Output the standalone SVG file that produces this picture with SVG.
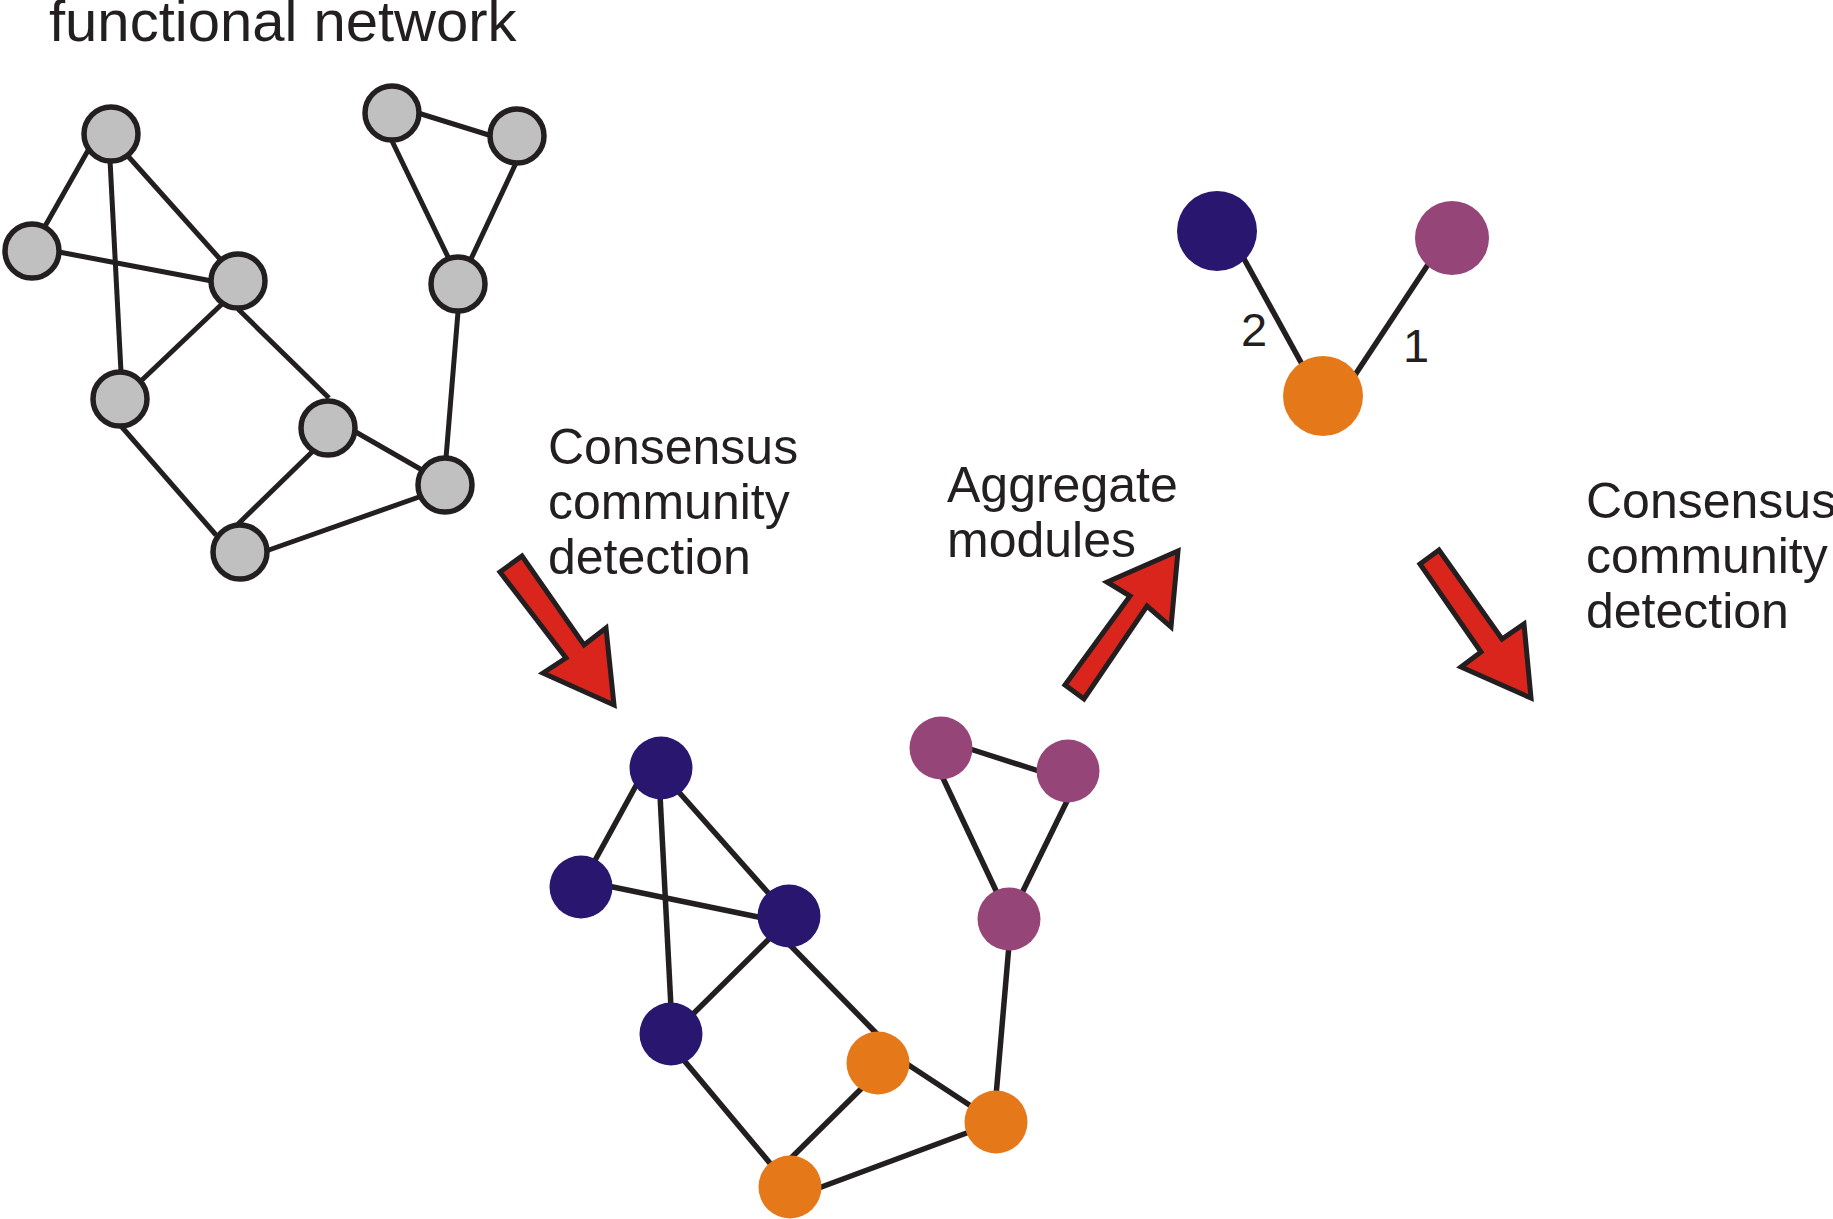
<svg xmlns="http://www.w3.org/2000/svg" width="1833" height="1219" viewBox="0 0 1833 1219">
<style>
  .txt { font-family: "Liberation Sans", Arial, sans-serif; fill: #231F20; }
  .lbl { font-size: 50px; }
  .edge { stroke: #231F20; stroke-width: 5; stroke-linecap: butt; fill: none; }
  .cedge { stroke: #231F20; stroke-width: 5.5; stroke-linecap: butt; fill: none; }
  .gray { fill: #C0C0C0; stroke: #231F20; stroke-width: 5.5; }
  .blue { fill: #29166F; }
  .purple { fill: #964578; }
  .orange { fill: #E57818; }
  .arrow { fill: #DA251D; stroke: #231F20; stroke-width: 5; stroke-linejoin: miter; }
</style>
<rect width="1833" height="1219" fill="#FFFFFF"/>

<text class="txt" x="49" y="41" font-size="58">functional network</text>

<g id="connectors">
  <!-- gray network -->
  <line class="edge" x1="90" y1="147" x2="44" y2="228"/>
  <line class="edge" x1="110" y1="160" x2="121" y2="372"/>
  <line class="edge" x1="127" y1="155" x2="220" y2="259"/>
  <line class="edge" x1="59" y1="252" x2="212" y2="281"/>
  <line class="edge" x1="222" y1="304" x2="142" y2="380"/>
  <line class="edge" x1="238" y1="309" x2="329" y2="398"/>
  <line class="edge" x1="121" y1="426" x2="216" y2="535"/>
  <line class="edge" x1="237" y1="525" x2="312" y2="452"/>
  <line class="edge" x1="354" y1="431" x2="422" y2="470"/>
  <line class="edge" x1="266" y1="551" x2="419" y2="497"/>
  <line class="edge" x1="418" y1="113" x2="492" y2="136"/>
  <line class="edge" x1="392" y1="141" x2="449" y2="259"/>
  <line class="edge" x1="516" y1="163" x2="471" y2="259"/>
  <line class="edge" x1="458" y1="312" x2="446" y2="458"/>
  <!-- colored network -->
  <line class="cedge" x1="638" y1="782" x2="593" y2="864"/>
  <line class="cedge" x1="660" y1="795" x2="671" y2="1008"/>
  <line class="cedge" x1="677" y1="790" x2="771" y2="896"/>
  <line class="cedge" x1="608" y1="886" x2="763" y2="918"/>
  <line class="cedge" x1="772" y1="936" x2="690" y2="1017"/>
  <line class="cedge" x1="787" y1="942" x2="879" y2="1036"/>
  <line class="cedge" x1="682" y1="1058" x2="774" y2="1168"/>
  <line class="cedge" x1="788" y1="1161" x2="865" y2="1085"/>
  <line class="cedge" x1="904" y1="1062" x2="974" y2="1108"/>
  <line class="cedge" x1="816" y1="1189" x2="972" y2="1131"/>
  <line class="cedge" x1="967" y1="748" x2="1042" y2="772"/>
  <line class="cedge" x1="941" y1="774" x2="999" y2="897"/>
  <line class="cedge" x1="1069" y1="797" x2="1020" y2="897"/>
  <line class="cedge" x1="1009" y1="945" x2="996" y2="1096"/>
  <!-- aggregated network -->
  <line class="cedge" x1="1243" y1="257" x2="1303" y2="366"/>
  <line class="cedge" x1="1431" y1="260" x2="1353" y2="378"/>
  <text class="txt" x="1241" y="346" font-size="47">2</text>
  <text class="txt" x="1403" y="362" font-size="47">1</text>
</g>

<g id="gray-network">
  <g id="g1"><circle class="gray" cx="111" cy="134" r="27"/></g>
  <g id="g2"><circle class="gray" cx="32" cy="251" r="27"/></g>
  <g id="g3"><circle class="gray" cx="238" cy="281" r="27"/></g>
  <g id="g4"><circle class="gray" cx="120" cy="399" r="27"/></g>
  <g id="g5"><circle class="gray" cx="328" cy="428" r="27"/></g>
  <g id="g6"><circle class="gray" cx="240" cy="552" r="27"/></g>
  <g id="g7"><circle class="gray" cx="445" cy="485" r="27"/></g>
  <g id="g8"><circle class="gray" cx="458" cy="284" r="27"/></g>
  <g id="g9"><circle class="gray" cx="392" cy="113" r="27"/></g>
  <g id="g10"><circle class="gray" cx="517" cy="136" r="27"/></g>
</g>

<g id="colored-network">
  <g id="b1"><circle class="blue" cx="661" cy="768" r="31.5"/></g>
  <g id="b2"><circle class="blue" cx="581" cy="887" r="31.5"/></g>
  <g id="b3"><circle class="blue" cx="789" cy="916" r="31.5"/></g>
  <g id="b4"><circle class="blue" cx="671" cy="1034" r="31.5"/></g>
  <g id="o1"><circle class="orange" cx="878" cy="1063" r="31.5"/></g>
  <g id="o2"><circle class="orange" cx="996" cy="1122" r="31.5"/></g>
  <g id="o3"><circle class="orange" cx="790" cy="1187" r="31.5"/></g>
  <g id="p1"><circle class="purple" cx="941" cy="748" r="31.5"/></g>
  <g id="p2"><circle class="purple" cx="1068" cy="771" r="31.5"/></g>
  <g id="p3"><circle class="purple" cx="1009" cy="919" r="31.5"/></g>
</g>

<g id="aggregated-network">
  <g id="a-blue"><circle class="blue" cx="1217" cy="231" r="40"/></g>
  <g id="a-purple"><circle class="purple" cx="1452" cy="238" r="37"/></g>
  <g id="a-orange"><circle class="orange" cx="1323" cy="396" r="40"/></g>
</g>

<g id="arrows">
  <polygon class="arrow" points="500,572 522,556 584,645 606,628 614,705 543,673 566,658"/>
  <polygon class="arrow" points="1065,685 1084,699 1147,606 1171,627 1178,551 1107,582 1130,596"/>
  <polygon class="arrow" points="1420,564 1439,550 1502,639 1524,624 1531,698 1461,667 1481,652"/>
</g>

<g id="labels">
  <text class="txt lbl" x="548" y="464">Consensus</text>
  <text class="txt lbl" x="548" y="519">community</text>
  <text class="txt lbl" x="548" y="574">detection</text>
  <text class="txt lbl" x="947" y="502">Aggregate</text>
  <text class="txt lbl" x="947" y="557">modules</text>
  <text class="txt lbl" x="1586" y="518">Consensus</text>
  <text class="txt lbl" x="1586" y="573">community</text>
  <text class="txt lbl" x="1586" y="628">detection</text>
</g>
</svg>
